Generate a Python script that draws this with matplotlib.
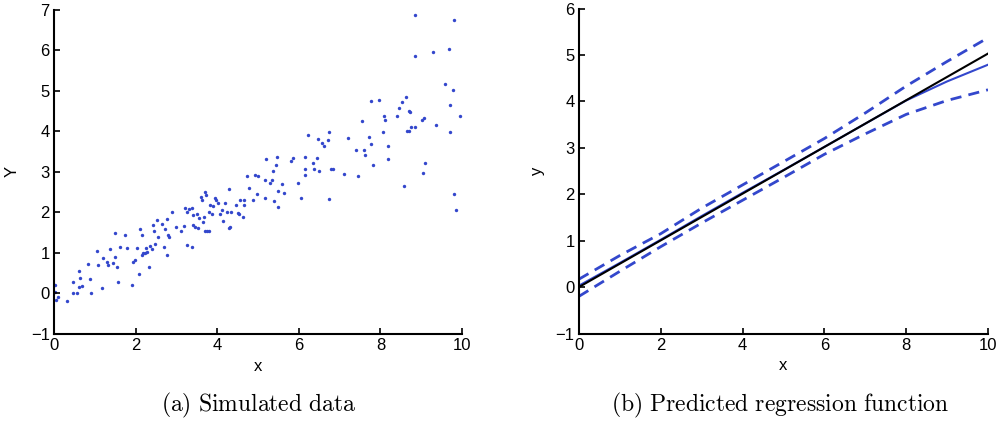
import numpy as np
import matplotlib.pyplot as plt

plt.rcParams['font.family'] = ['Liberation Sans', 'DejaVu Sans']
plt.rcParams['mathtext.fontset'] = 'cm'

# --- (a) simulated data ---
sim_x = [0.02, 0.02, 0.05, 0.11, 0.33, 0.47, 0.46, 0.57, 0.62, 0.62, 0.65, 0.68, 0.84, 0.88, 0.90,
         1.05, 1.09, 1.17, 1.21, 1.29, 1.33, 1.37, 1.44, 1.49, 1.50, 1.55, 1.57, 1.62, 1.75, 1.80,
         1.91, 1.93, 1.99, 2.03, 2.09, 2.11, 2.15, 2.15, 2.19, 2.23, 2.26, 2.29, 2.32, 2.35, 2.40,
         2.44, 2.45, 2.48, 2.53, 2.56, 2.66, 2.70, 2.72, 2.76, 2.78, 2.79, 2.83, 2.89, 2.99, 3.11,
         3.19, 3.22, 3.25, 3.27, 3.32, 3.38, 3.38, 3.42, 3.42, 3.46, 3.50, 3.52, 3.56, 3.60, 3.62,
         3.65, 3.68, 3.70, 3.72, 3.69, 3.74, 3.79, 3.81, 3.83, 3.87, 3.91, 3.95, 3.97, 4.01, 4.06,
         4.11, 4.15, 4.19, 4.24, 4.28, 4.30, 4.32, 4.33, 4.46, 4.52, 4.53, 4.56, 4.63, 4.65, 4.66,
         4.73, 4.77, 4.87, 4.93, 4.97, 5.01, 5.18, 5.18, 5.20, 5.30, 5.34, 5.38, 5.40, 5.45, 5.46,
         5.49, 5.50, 5.59, 5.64, 5.81, 5.87, 5.98, 6.05, 6.16, 6.16, 6.16, 6.23, 6.36, 6.38, 6.44,
         6.46, 6.49, 6.57, 6.61, 6.71, 6.73, 6.75, 6.79, 6.85, 7.10, 7.20, 7.41, 7.46, 7.55, 7.59,
         7.63, 7.71, 7.77, 7.78, 7.83, 7.96, 8.06, 8.08, 8.12, 8.18, 8.19, 8.41, 8.45, 8.53, 8.57,
         8.62, 8.65, 8.69, 8.70, 8.73, 8.76, 8.84, 8.85, 8.84, 9.02, 9.06, 9.09, 9.04, 9.28, 9.36,
         9.58, 9.68, 9.70, 9.70, 9.77, 9.80, 9.81, 9.84, 9.96]
sim_y = [0.20, 0.04, -0.16, -0.08, -0.19, 0.00, 0.29, 0.02, 0.55, 0.16, 0.37, 0.19, 0.72, 0.35, 0.02,
         1.05, 0.70, 0.14, 0.88, 0.78, 0.70, 1.09, 0.74, 1.50, 0.90, 0.66, 0.29, 1.15, 1.44, 1.11,
         0.21, 0.78, 0.82, 1.12, 0.49, 1.60, 1.44, 0.96, 1.01, 0.99, 1.12, 1.03, 0.66, 1.17, 1.09,
         1.70, 1.54, 1.21, 1.82, 1.40, 1.72, 1.15, 1.58, 1.83, 0.94, 1.45, 1.40, 2.00, 1.63, 1.54,
         1.67, 2.11, 2.01, 1.19, 2.09, 1.15, 2.11, 1.93, 1.70, 1.64, 1.95, 1.62, 1.85, 2.38, 2.30,
         1.77, 1.89, 2.50, 2.42, 1.54, 1.54, 1.54, 2.01, 2.18, 1.95, 2.16, 2.36, 2.30, 2.24, 1.95,
         2.05, 1.78, 2.22, 2.01, 1.62, 2.57, 1.64, 2.01, 2.18, 1.99, 1.96, 2.30, 1.89, 2.18, 2.30,
         2.91, 2.60, 2.30, 2.93, 2.46, 2.89, 2.79, 2.36, 3.31, 2.73, 2.79, 3.02, 2.29, 3.16, 3.36,
         2.13, 2.52, 2.71, 2.49, 3.27, 3.34, 2.73, 2.36, 3.37, 3.08, 2.93, 3.92, 3.22, 3.08, 3.34,
         3.80, 3.03, 3.72, 3.65, 3.78, 3.98, 2.34, 3.06, 3.08, 2.96, 3.83, 3.55, 2.90, 4.25, 3.55,
         3.41, 3.85, 3.69, 4.75, 3.18, 4.78, 3.98, 4.39, 4.29, 3.65, 3.33, 4.39, 4.57, 4.72, 2.65,
         4.86, 4.01, 4.02, 4.50, 4.47, 4.11, 4.10, 6.87, 5.87, 4.29, 4.33, 3.22, 2.97, 5.95, 4.15,
         5.16, 6.03, 4.64, 3.98, 5.02, 2.45, 6.76, 2.06, 4.39]

# --- (b) predicted regression function ---
grid_x = [0, 1, 2, 3, 4, 5, 6, 7, 8, 9, 10]
pred_mean = [0.03, 0.52, 1.02, 1.53, 2.03, 2.52, 3.02, 3.52, 4.02, 4.43, 4.79]
pred_upper = [0.17, 0.68, 1.15, 1.70, 2.20, 2.70, 3.20, 3.75, 4.33, 4.86, 5.37]
pred_lower = [-0.20, 0.34, 0.87, 1.38, 1.87, 2.36, 2.86, 3.30, 3.72, 4.02, 4.25]
true_x = [0, 10]
true_y = [0.0, 5.03]

blue = '#3347cc'

fig = plt.figure(figsize=(9.98, 4.26), dpi=100)
ax1 = fig.add_axes([0.054, 0.216, 0.409, 0.761])
ax2 = fig.add_axes([0.580, 0.217, 0.410, 0.763])

ax1.scatter(sim_x, sim_y, s=6, color=blue, linewidths=0)
ax1.set_xlim(0, 10)
ax1.set_ylim(-1, 7)
ax1.set_xticks([0, 2, 4, 6, 8, 10])
ax1.set_yticks(range(-1, 8))
ax1.set_xlabel('x', fontsize=12)
ax1.set_ylabel('Y', fontsize=12, labelpad=8)

ax2.plot(grid_x, pred_upper, '--', color=blue, lw=2, dashes=(4, 2.6))
ax2.plot(grid_x, pred_lower, '--', color=blue, lw=2, dashes=(4, 2.6))
ax2.plot(grid_x, pred_mean, '-', color=blue, lw=1.5)
ax2.plot(true_x, true_y, '-', color='black', lw=1.5)
ax2.set_xlim(0, 10)
ax2.set_ylim(-1, 6)
ax2.set_xticks([0, 2, 4, 6, 8, 10])
ax2.set_yticks(range(-1, 7))
ax2.set_xlabel('x', fontsize=12)
ax2.set_ylabel('y', fontsize=12, labelpad=8)

for ax in (ax1, ax2):
    ax.spines['top'].set_visible(False)
    ax.spines['right'].set_visible(False)
    ax.spines['left'].set_linewidth(1.5)
    ax.spines['bottom'].set_linewidth(1.5)
    ax.tick_params(direction='in', length=4, width=1.2, labelsize=12, pad=3)

fig.text(0.259, 0.035, r'$\mathrm{(a)\ Simulated\ data}$', ha='center', fontsize=17)
fig.text(0.782, 0.035, r'$\mathrm{(b)\ Predicted\ regression\ function}$', ha='center', fontsize=17)

fig.savefig('out.png', dpi=100)
